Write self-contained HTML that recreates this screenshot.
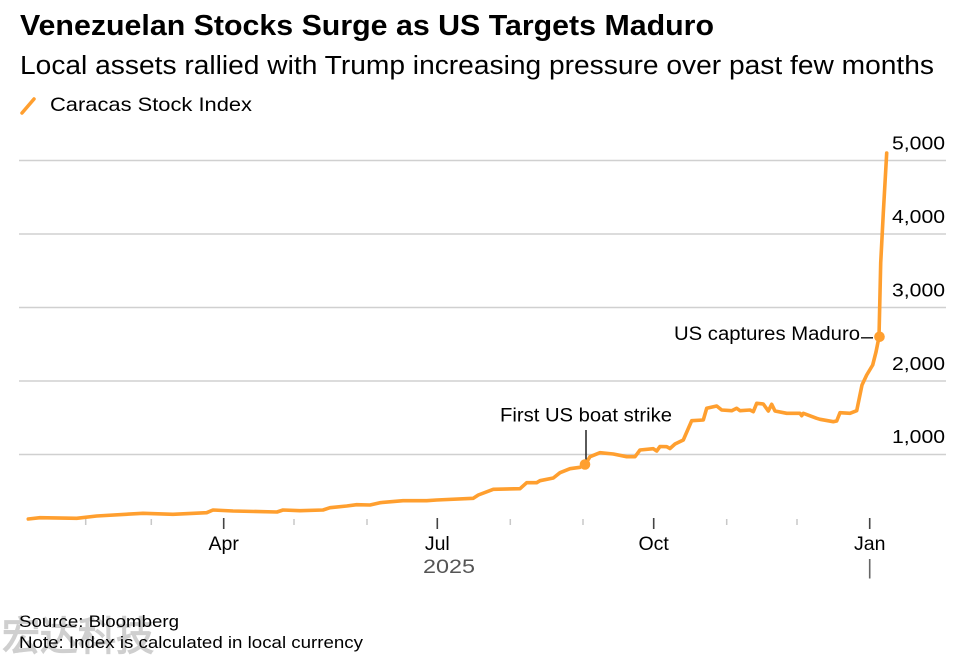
<!DOCTYPE html>
<html><head><meta charset="utf-8"><style>
html,body{margin:0;padding:0;background:#fff;}
svg{display:block;}
text{font-family:"Liberation Sans",Arial,sans-serif;}
</style></head><body>
<svg width="977" height="655" viewBox="0 0 977 655" xmlns="http://www.w3.org/2000/svg">
<rect width="977" height="655" fill="#fff"/>
<!-- watermark -->
<text x="2" y="650" font-family="'Noto Sans CJK SC',sans-serif" font-size="40" font-weight="bold" fill="#cfcfcf" textLength="152" lengthAdjust="spacingAndGlyphs">宏达科技</text>
<!-- title -->
<text x="20" y="35" font-size="28.5" font-weight="bold" fill="#000" textLength="694" lengthAdjust="spacingAndGlyphs">Venezuelan Stocks Surge as US Targets Maduro</text>
<text x="20" y="74" font-size="25.5" fill="#000" textLength="914" lengthAdjust="spacingAndGlyphs">Local assets rallied with Trump increasing pressure over past few months</text>
<!-- legend -->
<line x1="22" y1="113" x2="34" y2="99" stroke="#ff9f2f" stroke-width="3.5" stroke-linecap="round"/>
<text x="50" y="111" font-size="19.5" fill="#000" textLength="202" lengthAdjust="spacingAndGlyphs">Caracas Stock Index</text>
<!-- gridlines -->
<g stroke="#d0d0d0" stroke-width="1.6">
<line x1="19" y1="160.5" x2="946" y2="160.5"/>
<line x1="19" y1="234" x2="946" y2="234"/>
<line x1="19" y1="307.5" x2="946" y2="307.5"/>
<line x1="19" y1="381" x2="946" y2="381"/>
<line x1="19" y1="454.5" x2="946" y2="454.5"/>
</g>
<!-- y labels -->
<g font-size="18" fill="#000" text-anchor="end">
<text x="945" y="149.5" textLength="53" lengthAdjust="spacingAndGlyphs">5,000</text>
<text x="945" y="223" textLength="53" lengthAdjust="spacingAndGlyphs">4,000</text>
<text x="945" y="296.5" textLength="53" lengthAdjust="spacingAndGlyphs">3,000</text>
<text x="945" y="370" textLength="53" lengthAdjust="spacingAndGlyphs">2,000</text>
<text x="945" y="443" textLength="53" lengthAdjust="spacingAndGlyphs">1,000</text>
</g>
<!-- x ticks -->
<g stroke="#c8c8c8" stroke-width="1.5">
<line x1="85.7" y1="519" x2="85.7" y2="525"/>
<line x1="151.3" y1="519" x2="151.3" y2="525"/>
<line x1="294" y1="519" x2="294" y2="525"/>
<line x1="367" y1="519" x2="367" y2="525"/>
<line x1="510.3" y1="519" x2="510.3" y2="525"/>
<line x1="583" y1="519" x2="583" y2="525"/>
<line x1="726.7" y1="519" x2="726.7" y2="525"/>
<line x1="797" y1="519" x2="797" y2="525"/>
</g>
<g stroke="#444" stroke-width="1.6">
<line x1="223.7" y1="518" x2="223.7" y2="529"/>
<line x1="437.3" y1="518" x2="437.3" y2="529"/>
<line x1="653.7" y1="518" x2="653.7" y2="529"/>
<line x1="869.7" y1="518" x2="869.7" y2="529"/>
</g>
<line x1="869.7" y1="559" x2="869.7" y2="578.5" stroke="#666" stroke-width="1.6"/>
<!-- x labels -->
<g font-size="19.5" fill="#000" text-anchor="middle">
<text x="223.7" y="550">Apr</text>
<text x="437.3" y="550">Jul</text>
<text x="653.7" y="550">Oct</text>
<text x="869.7" y="550">Jan</text>
</g>
<text x="449" y="573" font-size="19" fill="#555" text-anchor="middle" textLength="52" lengthAdjust="spacingAndGlyphs">2025</text>
<!-- series -->
<polyline fill="none" stroke="#ff9f2f" stroke-width="3.6" stroke-linejoin="round" stroke-linecap="round" points="
28.3,519 40,517.7 76.7,518.3 96.7,516 143,513.3 173,514.3 206.7,512.7 213,510 233,511 277,512 283,510 300,510.7 323,510 330,507.7 346.7,506 356.7,504.7 370,505 380,502.7 403,500.7 426.7,500.7 436.7,500 473.3,498.3 478.3,495 493.3,489.3 520,488.7 526.7,482.7 536.7,482.7 540,480.7 553.3,478 560,472.7 570,468.7 580,467.3 585,465 590,456.7 600,452.7 613.3,454 626.7,456.7 635,456.7 640,450 653.3,448.7 656.7,451 660,446.5 666.7,446.7 670,448.5 675,444 683.3,440 691.7,420.7 703.3,420 706.7,408.3 716.7,406 721.7,410 731.7,410.7 736.7,408.3 740,410.7 750,410 753.3,411.7 756.7,403.3 763.3,404 768.3,411 771.7,404.3 775,411 786.7,413.3 800,413.3 801.7,415.7 803.3,413.3 816.7,418.3 820,419.3 833.3,421.7 836.7,421 840,412.7 850,413.3 856.7,410.7 862,385 866.7,375 872.7,365 876,352 879,337 880.7,263 883.3,213 886.7,153"/>
<!-- annotations -->
<line x1="586" y1="430" x2="586" y2="462" stroke="#222" stroke-width="1.5"/>
<circle cx="585" cy="464.5" r="5.3" fill="#ff9f2f"/>
<text x="586" y="421.5" font-size="19" fill="#000" text-anchor="middle" textLength="172" lengthAdjust="spacingAndGlyphs">First US boat strike</text>
<line x1="861" y1="337.8" x2="873" y2="337.8" stroke="#222" stroke-width="1.5"/>
<circle cx="879.5" cy="336.8" r="5.3" fill="#ff9f2f"/>
<text x="860" y="340" font-size="19" fill="#000" text-anchor="end" textLength="186" lengthAdjust="spacingAndGlyphs">US captures Maduro</text>
<!-- footer -->
<text x="19" y="627" font-size="17" fill="#000" textLength="160" lengthAdjust="spacingAndGlyphs">Source: Bloomberg</text>
<text x="19" y="648" font-size="17" fill="#000" textLength="344" lengthAdjust="spacingAndGlyphs">Note: Index is calculated in local currency</text>
</svg>
</body></html>
